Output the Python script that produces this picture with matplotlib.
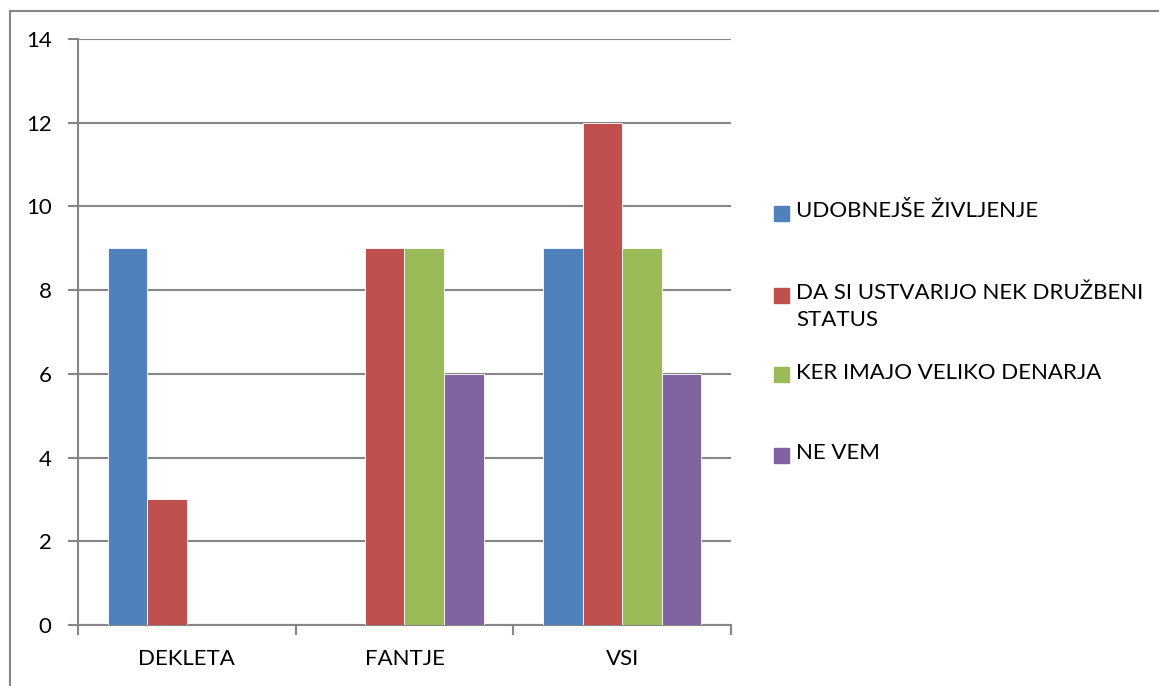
import numpy as np
import matplotlib.pyplot as plt
from matplotlib.patches import Rectangle
from matplotlib.lines import Line2D

plt.rcParams['font.family'] = ['Lato', 'DejaVu Sans']

# Data
categories = ['DEKLETA', 'FANTJE', 'VSI']
series_names = ['UDOBNEJŠE ŽIVLJENJE',
                'DA SI USTVARIJO NEK DRUŽBENI\nSTATUS',
                'KER IMAJO VELIKO DENARJA',
                'NE VEM']
udobnejse = [9, 0, 9]
status = [3, 9, 12]
denar = [0, 9, 9]
ne_vem = [0, 6, 6]
values = [udobnejse, status, denar, ne_vem]
colors = ['#4F81BD', '#C0504D', '#9BBB59', '#8064A2']

W, H = 1159, 686
fig = plt.figure(figsize=(W / 100, H / 100), dpi=100)

# plot area in pixels
left, right, top, bottom = 78, 731, 39, 625
ax = fig.add_axes([left / W, 1 - bottom / H, (right - left) / W, (bottom - top) / H])

x = np.arange(len(categories))
bw = 1 / 5.5  # excel gap width 150%
for i, (vals, c) in enumerate(zip(values, colors)):
    ax.bar(x + (i - 1.5) * bw, vals, width=bw, color=c, edgecolor='white',
           linewidth=0.6, zorder=3)

ax.set_xlim(-0.5, 2.5)
ax.set_ylim(0, 14)
ax.set_yticks(range(0, 15, 2))
ax.yaxis.grid(True, color='#868686', linewidth=1.5, zorder=0)
ax.set_xticks([-0.5, 0.5, 1.5, 2.5])
ax.set_xticklabels([])
ax.set_xticks(x, minor=True)
ax.set_xticklabels(categories, minor=True)
ax.tick_params(axis='x', which='minor', length=0, pad=17, labelsize=16)
ax.tick_params(axis='x', which='major', length=7, width=1.5, color='#868686')
ax.tick_params(axis='y', length=7, width=1.5, color='#868686', pad=12, labelsize=16)

for s in ['top', 'right']:
    ax.spines[s].set_visible(False)
for s in ['left', 'bottom']:
    ax.spines[s].set_color('#868686')
    ax.spines[s].set_linewidth(1.5)

# legend drawn by hand (excel spacing)
legend_y = [213, 295, 375, 455]
for name, c, ly in zip(series_names, colors, legend_y):
    fig.patches.append(Rectangle((774 / W, 1 - (ly + 7.5) / H), 15 / W, 15 / H,
                                 transform=fig.transFigure, color=c))
    fig.text(796 / W, 1 - (ly - 12) / H, name, fontsize=16, va='top',
             ha='left', linespacing=1.45)

# outer chart border
fig.add_artist(Line2D([10 / W, 1], [1 - 10.5 / H, 1 - 10.5 / H],
                      transform=fig.transFigure, color='#868686', linewidth=1.5))
fig.add_artist(Line2D([10 / W, 10 / W], [0, 1 - 10.5 / H],
                      transform=fig.transFigure, color='#868686', linewidth=1.5))

fig.savefig('out.png', dpi=100)
